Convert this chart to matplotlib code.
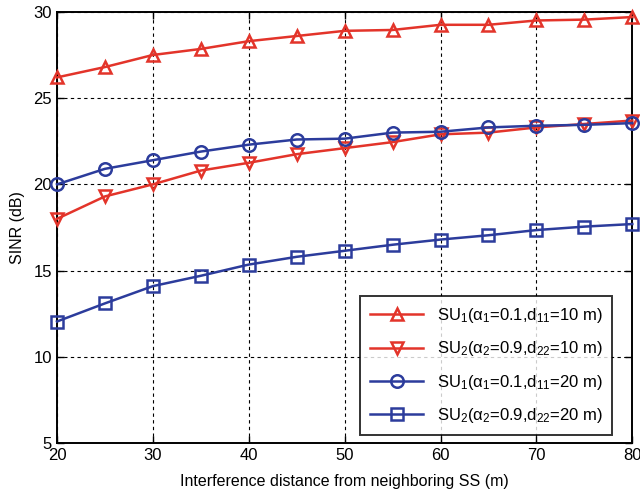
import matplotlib
matplotlib.use("Agg")
import matplotlib.pyplot as plt

plt.rcParams['font.family'] = ['Liberation Sans', 'DejaVu Sans']
plt.rcParams['mathtext.fontset'] = 'custom'
plt.rcParams['mathtext.rm'] = 'Liberation Sans'
plt.rcParams['mathtext.it'] = 'Liberation Sans'

distance = [20, 25, 30, 35, 40, 45, 50, 55, 60, 65, 70, 75, 80]
su1_d10 = [26.2, 26.8, 27.5, 27.85, 28.3, 28.6, 28.9, 28.95, 29.25, 29.25, 29.5, 29.55, 29.7]
su2_d10 = [18.0, 19.3, 20.0, 20.8, 21.25, 21.75, 22.1, 22.45, 22.9, 23.0, 23.3, 23.5, 23.7]
su1_d20 = [20.0, 20.9, 21.4, 21.9, 22.3, 22.6, 22.65, 23.0, 23.05, 23.3, 23.4, 23.45, 23.55]
su2_d20 = [12.05, 13.1, 14.1, 14.7, 15.35, 15.8, 16.15, 16.5, 16.8, 17.05, 17.35, 17.55, 17.7]

labels = [
    r'SU$_1$(α$_1$=0.1,d$_{11}$=10 m)',
    r'SU$_2$(α$_2$=0.9,d$_{22}$=10 m)',
    r'SU$_1$(α$_1$=0.1,d$_{11}$=20 m)',
    r'SU$_2$(α$_2$=0.9,d$_{22}$=20 m)',
]
xticks = [20, 30, 40, 50, 60, 70, 80]
yticks = [5, 10, 15, 20, 25, 30]

red = '#e3342a'
blue = '#2c3c9c'

fig = plt.figure(figsize=(6.4, 4.94), dpi=100)
ax = fig.add_axes([0.089, 0.103, 0.899, 0.873])

series = [(su1_d10, red, '^'), (su2_d10, red, 'v'), (su1_d20, blue, 'o'), (su2_d20, blue, 's')]
for (vals, c, m), lab in zip(series, labels):
    ax.plot(distance, vals, color=c, marker=m, markersize=9, markerfacecolor='none',
            markeredgewidth=1.8, linewidth=1.8, label=lab, clip_on=False, zorder=3)

ax.set_xlim(20, 80)
ax.set_ylim(5, 30)
ax.set_xticks(xticks)
ax.set_yticks(yticks)
ax.grid(True, color='black', linestyle=(0, (3, 3)), linewidth=0.8)
ax.tick_params(direction='in', labelsize=12, length=5, width=1, top=True, right=True)
for s in ax.spines.values():
    s.set_linewidth(1.4)
ax.set_xlabel('Interference distance from neighboring SS (m)', fontsize=11.5, labelpad=8)
ax.set_ylabel('SINR (dB)', fontsize=11.5, labelpad=6)

leg = ax.legend(loc='lower right', fontsize=12, frameon=True, fancybox=False,
                edgecolor='black', handlelength=3.2, borderpad=0.6, labelspacing=0.85,
                bbox_to_anchor=(0.98, 0.0))
leg.get_frame().set_linewidth(1.4)

fig.savefig('out.png', dpi=100)
